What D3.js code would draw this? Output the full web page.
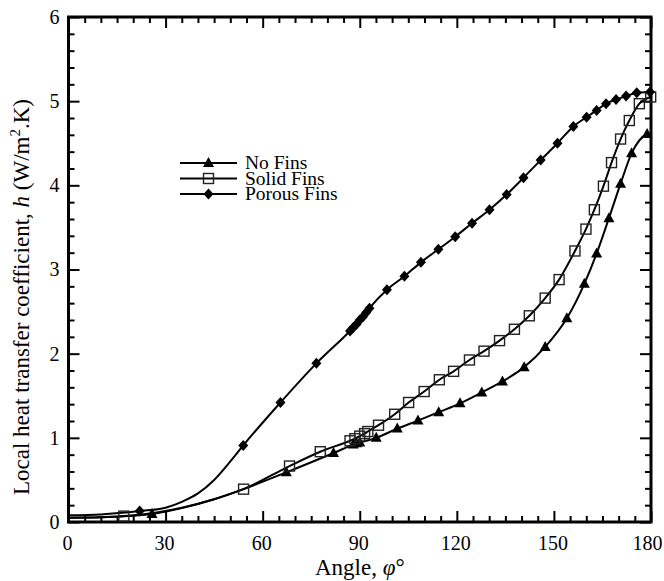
<!DOCTYPE html>
<html>
<head>
<meta charset="utf-8">
<script src="https://cdn.jsdelivr.net/npm/d3@7"></script>
<style>
  html, body { margin: 0; padding: 0; background: #fff; }
  svg { display: block; }
  text { font-family: "Liberation Serif", "Times New Roman", serif; fill: #000; }
</style>
</head>
<body>
<svg id="chart" width="664" height="581"></svg>
<script>
// ---- Data ----
const xTicks = [0, 30, 60, 90, 120, 150, 180];
const yTicks = [0, 1, 2, 3, 4, 5, 6];

// No Fins
const noFinsPhi  = [0, 10, 20, 25.8, 35, 45, 54, 67.3, 81.9, 88, 89, 90, 95.1, 101.6, 108.0, 114.4, 121.0, 127.7, 134.1, 140.8, 147.3, 154, 159.4, 163.2, 167.0, 170.6, 174.0, 178.8, 180];
const noFinsH    = [0.05, 0.055, 0.075, 0.095, 0.165, 0.27, 0.39, 0.59, 0.82, 0.92, 0.935, 0.945, 1.0, 1.11, 1.205, 1.305, 1.41, 1.54, 1.67, 1.84, 2.08, 2.42, 2.83, 3.19, 3.61, 4.02, 4.38, 4.61, 4.62];
const noFinsMark = [0, 0, 0, 1, 0, 0, 0, 1, 1, 1, 1, 1, 1, 1, 1, 1, 1, 1, 1, 1, 1, 1, 1, 1, 1, 1, 1, 1, 0];

// Solid Fins
const solidPhi  = [0, 10, 17.1, 25, 35, 45, 54.1, 68.3, 77.8, 87, 88.5, 90, 91.5, 92.5, 95.8, 100.8, 105.1, 109.9, 114.6, 119.0, 123.9, 128.4, 133.2, 137.8, 142.4, 147.3, 151.6, 156.5, 159.9, 162.5, 165.3, 167.8, 170.6, 173.3, 176.4, 179.9];
const solidH    = [0.05, 0.055, 0.07, 0.10, 0.17, 0.27, 0.39, 0.665, 0.835, 0.965, 0.99, 1.02, 1.05, 1.075, 1.15, 1.28, 1.42, 1.55, 1.69, 1.79, 1.925, 2.03, 2.155, 2.29, 2.45, 2.66, 2.88, 3.22, 3.48, 3.71, 3.99, 4.27, 4.55, 4.77, 4.97, 5.05];
const solidMark = [0, 0, 1, 0, 0, 0, 1, 1, 1, 1, 1, 1, 1, 1, 1, 1, 1, 1, 1, 1, 1, 1, 1, 1, 1, 1, 1, 1, 1, 1, 1, 1, 1, 1, 1, 1];

// Porous Fins
const porousPhi  = [0, 10, 22, 30, 35, 40, 45, 50, 54, 65.5, 76.6, 87, 88, 89, 90, 91, 92, 93, 98.4, 103.8, 108.9, 114.3, 119.5, 124.7, 130.1, 135.4, 140.6, 145.9, 151.1, 156, 160.1, 163.2, 166.1, 169.2, 172.3, 175.6, 179.7];
const porousH    = [0.08, 0.09, 0.13, 0.17, 0.24, 0.34, 0.50, 0.72, 0.91, 1.42, 1.885, 2.27, 2.31, 2.35, 2.40, 2.44, 2.49, 2.54, 2.76, 2.92, 3.085, 3.24, 3.39, 3.55, 3.71, 3.89, 4.09, 4.30, 4.50, 4.70, 4.81, 4.89, 4.97, 5.02, 5.06, 5.10, 5.11];
const porousMark = [0, 0, 1, 0, 0, 0, 0, 0, 1, 1, 1, 1, 1, 1, 1, 1, 1, 1, 1, 1, 1, 1, 1, 1, 1, 1, 1, 1, 1, 1, 1, 1, 1, 1, 1, 1, 1];

const seriesNames = ["No Fins", "Solid Fins", "Porous Fins"];
const seriesShapes = ["triangle", "square", "diamond"];

// ---- Layout ----
const svg = d3.select("#chart");
const L = 68.5, R = 651, T = 17, B = 522;
const x = d3.scaleLinear().domain([0, 180]).range([L, R]);
const y = d3.scaleLinear().domain([0, 6]).range([B, T]);

const font = '"Liberation Serif", "Times New Roman", serif';

svg.append("defs").append("clipPath").attr("id", "clip")
  .append("rect").attr("x", L).attr("y", T).attr("width", R - L).attr("height", B - T);

// ---- Axes with inward ticks ----
function tickAxis(axisGen, transform) {
  return svg.append("g").attr("transform", transform).call(axisGen)
    .call(g => g.select(".domain").remove())
    .call(g => g.selectAll("line").attr("stroke", "#000").attr("stroke-width", 2));
}
const minorX = d3.range(0, 181, 5).filter(v => v % 30 !== 0);
const minorY = d3.range(0, 6.01, 0.2).map(v => +v.toFixed(1)).filter(v => Math.abs(v - Math.round(v)) > 1e-6);

const gB = tickAxis(d3.axisBottom(x).tickValues(xTicks).tickSize(-11).tickPadding(14).tickFormat(d3.format("d")), `translate(0,${B})`);
gB.selectAll("text").attr("font-family", font).attr("font-size", 20).attr("fill", "#000")
  .attr("dx", d => d === 180 ? -4 : -1.5);
tickAxis(d3.axisBottom(x).tickValues(minorX).tickSize(-6).tickFormat(""), `translate(0,${B})`);
tickAxis(d3.axisTop(x).tickValues(xTicks).tickSize(-11).tickFormat(""), `translate(0,${T})`);
tickAxis(d3.axisTop(x).tickValues(minorX).tickSize(-6).tickFormat(""), `translate(0,${T})`);
const gL = tickAxis(d3.axisLeft(y).tickValues(yTicks).tickSize(-11).tickPadding(9).tickFormat(d3.format("d")), `translate(${L},0)`);
gL.selectAll("text").attr("font-family", font).attr("font-size", 20).attr("fill", "#000");
tickAxis(d3.axisLeft(y).tickValues(minorY).tickSize(-6).tickFormat(""), `translate(${L},0)`);
tickAxis(d3.axisRight(y).tickValues(yTicks).tickSize(-11).tickFormat(""), `translate(${R},0)`);
tickAxis(d3.axisRight(y).tickValues(minorY).tickSize(-6).tickFormat(""), `translate(${R},0)`);

svg.append("rect").attr("x", L).attr("y", T).attr("width", R - L).attr("height", B - T)
  .attr("fill", "none").attr("stroke", "#000").attr("stroke-width", 3);

// ---- Series ----
const seriesData = [
  { phi: noFinsPhi, h: noFinsH, mark: noFinsMark },
  { phi: solidPhi, h: solidH, mark: solidMark },
  { phi: porousPhi, h: porousH, mark: porousMark }
];

const line = d3.line().x(d => x(d[0])).y(d => y(d[1])).curve(d3.curveMonotoneX);

function drawMarker(g, shape, cx, cy) {
  if (shape === "triangle") {
    g.append("path").attr("d", `M${cx},${cy - 6} L${cx + 5.5},${cy + 4} L${cx - 5.5},${cy + 4} Z`)
      .attr("fill", "#000");
  } else if (shape === "square") {
    g.append("rect").attr("x", cx - 5).attr("y", cy - 5).attr("width", 10).attr("height", 10)
      .attr("fill", "none").attr("stroke", "#222").attr("stroke-width", 1.4);
  } else {
    g.append("path").attr("d", `M${cx},${cy - 5.5} L${cx + 5},${cy} L${cx},${cy + 5.5} L${cx - 5},${cy} Z`)
      .attr("fill", "#000");
  }
}

const plot = svg.append("g").attr("clip-path", "url(#clip)");
seriesData.forEach((s) => {
  const pts = s.phi.map((p, k) => [p, s.h[k]]);
  plot.append("path").datum(pts).attr("d", line)
    .attr("fill", "none").attr("stroke", "#000").attr("stroke-width", 2);
});
const markG = svg.append("g");
seriesData.forEach((s, i) => {
  s.phi.forEach((p, k) => {
    if (s.mark[k]) drawMarker(markG, seriesShapes[i], x(p), y(s.h[k]));
  });
});

// ---- Legend ----
const legY = [163, 178.5, 194];
seriesNames.forEach((name, i) => {
  svg.append("line").attr("x1", 180).attr("x2", 237).attr("y1", legY[i]).attr("y2", legY[i])
    .attr("stroke", "#000").attr("stroke-width", 2);
  drawMarker(svg, seriesShapes[i], 208.5, legY[i]);
  svg.append("text").attr("x", 245).attr("y", legY[i]).attr("dy", "0.33em")
    .attr("font-size", 19.5).text(name);
});

// ---- Axis titles ----
const xt = svg.append("text").attr("x", (L + R) / 2).attr("y", 575)
  .attr("text-anchor", "middle").attr("font-size", 23);
xt.append("tspan").text("Angle, ");
xt.append("tspan").attr("font-style", "italic").text("\u03C6");
xt.append("tspan").text("\u00B0");

const yt = svg.append("text").attr("transform", `translate(29,297) rotate(-90)`)
  .attr("text-anchor", "middle").attr("font-size", 23);
yt.append("tspan").text("Local heat transfer coefficient, ");
yt.append("tspan").attr("font-style", "italic").text("h");
yt.append("tspan").text(" (W/m");
yt.append("tspan").attr("font-size", 15).attr("dy", -9).text("2");
yt.append("tspan").attr("dy", 9).text(".K)");
</script>
</body>
</html>
